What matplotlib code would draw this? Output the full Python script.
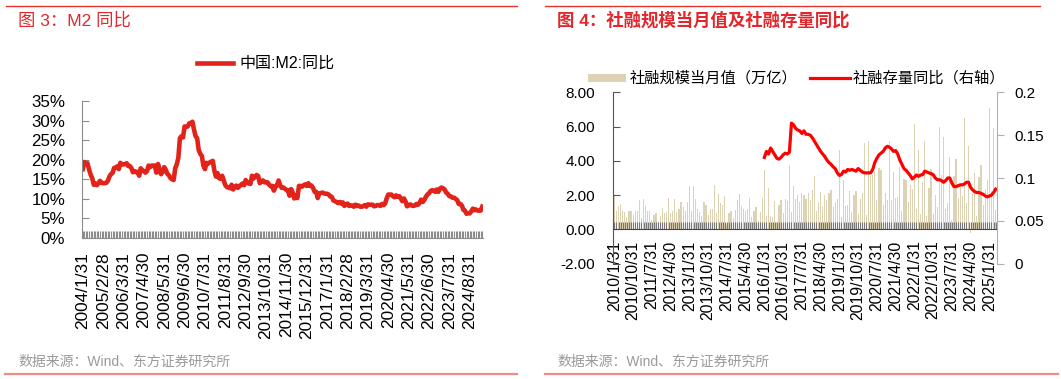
#!/usr/bin/env python3
# -*- coding: utf-8 -*-
"""
Dois paineis lado a lado: M2 同比 (esquerda) e 社融规模当月值 + 社融存量同比 (direita).
"""
import numpy as np
import pandas as pd
import matplotlib
matplotlib.use("Agg")
import matplotlib.pyplot as plt
from matplotlib.lines import Line2D
from matplotlib.patches import Rectangle

plt.rcParams['font.family'] = ['Liberation Sans', 'Noto Sans CJK SC', 'DejaVu Sans']

# ---------------------------------------------------------------------------
# dados
# ---------------------------------------------------------------------------
# M2 同比 (%), mensal 2004/1 .. 2025/4
m2_yoy = [
    17.6, 19.4, 19.1, 19.1, 17.5, 16.2, 15.3, 13.6, 13.9, 13.5, 14.0, 14.6,   # 2004
    14.1, 14.0, 14.0, 14.1, 14.6, 15.7, 16.3, 16.6, 17.9, 18.0, 18.3, 17.6,   # 2005
    19.2, 18.8, 18.8, 18.9, 19.1, 18.4, 18.4, 17.9, 16.8, 17.1, 16.8, 16.9,   # 2006
    15.9, 17.8, 17.3, 17.1, 16.7, 17.1, 18.5, 18.1, 18.5, 18.5, 18.5, 16.7,   # 2007
    18.9, 17.5, 16.3, 16.9, 18.1, 17.4, 16.4, 16.0, 15.3, 15.0, 14.8, 17.8,   # 2008
    18.8, 20.5, 25.5, 26.0, 25.7, 28.5, 28.4, 28.5, 29.3, 29.4, 29.7, 27.7,   # 2009
    26.0, 25.5, 22.5, 21.5, 21.0, 18.5, 17.6, 19.2, 19.0, 19.3, 19.5, 19.7,   # 2010
    17.2, 15.7, 16.6, 15.3, 15.1, 15.9, 14.7, 13.5, 13.0, 12.9, 12.7, 13.6,   # 2011
    12.4, 13.0, 13.4, 12.8, 13.2, 13.6, 13.9, 13.5, 14.8, 14.1, 13.9, 13.8,   # 2012
    15.9, 15.2, 15.7, 16.1, 15.8, 14.0, 14.5, 14.7, 14.2, 14.3, 14.2, 13.6,   # 2013
    13.2, 13.3, 12.1, 13.2, 13.4, 14.7, 13.5, 12.8, 12.9, 12.6, 12.3, 12.2,   # 2014
    10.8, 12.5, 11.6, 10.1, 10.8, 10.2, 13.3, 13.3, 13.1, 13.5, 13.7, 13.3,   # 2015
    14.0, 13.3, 13.4, 12.8, 11.8, 11.8, 10.2, 11.4, 11.5, 11.6, 11.4, 11.3,   # 2016
    11.3, 11.1, 10.6, 10.5, 9.6, 9.4, 9.2, 8.9, 9.2, 8.8, 9.1, 8.2,           # 2017
    8.6, 8.8, 8.2, 8.3, 8.3, 8.0, 8.5, 8.2, 8.3, 8.0, 8.0, 8.1,               # 2018
    8.4, 8.0, 8.6, 8.5, 8.5, 8.5, 8.1, 8.2, 8.4, 8.4, 8.2, 8.7,               # 2019
    8.4, 8.8, 10.1, 11.1, 11.1, 11.1, 10.7, 10.4, 10.9, 10.5, 10.7, 10.1,     # 2020
    9.4, 10.1, 9.4, 8.1, 8.3, 8.6, 8.3, 8.2, 8.3, 8.7, 8.5, 9.0,              # 2021
    9.8, 9.2, 9.7, 10.5, 11.1, 11.4, 12.0, 12.2, 12.1, 11.8, 12.4, 11.8,     # 2022
    12.6, 12.9, 12.7, 12.4, 11.6, 11.3, 10.7, 10.6, 10.3, 10.3, 10.0, 9.7,   # 2023
    8.7, 8.7, 8.3, 7.2, 7.0, 6.2, 6.3, 6.3, 6.8, 7.5, 7.1, 7.3,              # 2024
    7.0, 7.0, 7.0, 8.0,                                                      # 2025
]

# 社融规模当月值 (万亿), mensal 2010/1 .. 2025/4
tsf_flow = [
    2.00, 1.07, 1.38, 1.48, 1.07, 0.99, 0.70, 1.07, 1.10, 0.83, 1.05, 1.07,   # 2010
    1.73, 0.64, 1.80, 1.36, 1.07, 1.07, 0.54, 0.85, 0.95, 0.45, 0.80, 1.26,   # 2011
    0.95, 1.03, 1.84, 0.95, 1.10, 1.77, 1.03, 1.22, 1.61, 1.32, 1.10, 1.61,   # 2012
    2.52, 1.07, 2.52, 1.75, 1.19, 1.03, 0.80, 1.58, 1.42, 0.83, 1.22, 1.22,   # 2013
    2.58, 0.94, 2.07, 1.55, 1.40, 1.97, 0.27, 0.96, 1.05, 0.66, 1.15, 1.69,   # 2014
    2.05, 1.35, 1.18, 1.05, 1.22, 1.86, 0.72, 1.08, 1.30, 0.48, 1.02, 1.82,   # 2015
    3.46, 0.80, 2.40, 0.80, 0.75, 1.63, 0.45, 1.42, 1.72, 0.95, 1.80, 1.63,   # 2016
    3.75, 1.03, 2.53, 1.80, 2.00, 1.60, 2.10, 2.00, 1.80, 2.10, 1.70, 2.30,   # 2017
    3.13, 1.10, 1.60, 2.20, 1.30, 2.00, 1.70, 2.15, 2.30, 1.30, 1.60, 1.80,   # 2018
    4.64, 0.70, 2.86, 1.36, 1.40, 2.26, 1.01, 1.98, 2.27, 0.88, 1.75, 2.10,   # 2019
    5.07, 0.86, 5.16, 3.09, 3.19, 3.43, 1.69, 3.58, 3.48, 1.42, 2.13, 1.72,   # 2020
    5.17, 1.71, 3.34, 1.85, 1.92, 3.67, 1.06, 2.96, 2.90, 1.59, 2.61, 2.37,   # 2021
    6.17, 1.19, 4.65, 0.91, 2.79, 5.17, 0.76, 2.43, 3.53, 0.91, 1.99, 1.31,   # 2022
    5.98, 3.16, 5.38, 1.22, 1.56, 4.22, 0.53, 3.12, 4.12, 1.85, 2.45, 1.94,   # 2023
    6.50, 1.56, 4.87, -0.20, 2.07, 3.30, 0.77, 3.03, 3.76, 1.40, 2.34, 2.88,  # 2024
    7.06, 2.23, 5.89, 1.16,                                                   # 2025
]

# 社融存量同比, mensal 2016/1 .. 2025/4
tsf_stock_yoy = [
    0.124, 0.131, 0.128, 0.135, 0.131, 0.127, 0.123, 0.122, 0.124, 0.127, 0.129, 0.128,  # 2016
    0.130, 0.164, 0.162, 0.158, 0.156, 0.155, 0.152, 0.155, 0.151, 0.151, 0.150, 0.147,  # 2017
    0.143, 0.139, 0.135, 0.131, 0.128, 0.125, 0.121, 0.118, 0.116, 0.113, 0.111, 0.106,  # 2018
    0.103, 0.104, 0.108, 0.107, 0.110, 0.109, 0.110, 0.109, 0.108, 0.111, 0.109, 0.107,  # 2019
    0.106, 0.106, 0.106, 0.106, 0.110, 0.118, 0.123, 0.127, 0.129, 0.131, 0.135, 0.137,  # 2020
    0.136, 0.134, 0.131, 0.132, 0.128, 0.121, 0.116, 0.111, 0.109, 0.106, 0.103, 0.099,  # 2021
    0.101, 0.1035, 0.102, 0.1035, 0.104, 0.108, 0.107, 0.106, 0.105, 0.104, 0.100, 0.098,  # 2022
    0.098, 0.097, 0.095, 0.097, 0.100, 0.100, 0.094, 0.090, 0.090, 0.091, 0.092, 0.092,  # 2023
    0.093, 0.095, 0.095, 0.089, 0.086, 0.084, 0.083, 0.083, 0.082, 0.081, 0.079, 0.078,  # 2024
    0.079, 0.080, 0.083, 0.087,                                                          # 2025
]

m2_dates = pd.date_range("2004-01-31", periods=len(m2_yoy), freq="ME")
tsf_dates = pd.date_range("2010-01-31", periods=len(tsf_flow), freq="ME")
stock_start = 72          # 2016/1 na serie mensal do 社融

W, H = 1061, 379
RED_TITLE = "#e3262b"
GREY_TXT = "#9a9a9a"


def fx(px):
    return px / W


def fy(py):
    return 1 - py / H


def rot_labels(datas, passo):
    pos = list(range(0, len(datas), passo))
    lab = [f"{d.year}/{d.month}/{d.day}" for d in datas[pos]]
    return pos, lab


fig = plt.figure(figsize=(W / 100, H / 100), dpi=100)

# ---------------------------------------------------------------------------
# painel esquerdo: M2
# ---------------------------------------------------------------------------
ax1 = fig.add_axes([fx(82), fy(238), fx(483 - 82), (238 - 101) / H])
x1 = np.arange(len(m2_yoy))
ax1.plot(x1, np.array(m2_yoy) / 100, color="#e2231a", lw=3.3, solid_joinstyle="round")
ax1.set_xlim(-0.5, len(m2_yoy) - 0.5)
ax1.set_ylim(0, 0.35)
ax1.set_yticks(np.arange(0, 0.351, 0.05))
ax1.set_yticklabels([f"{int(round(v * 100))}%" for v in np.arange(0, 0.351, 0.05)])
pos, lab = rot_labels(m2_dates, 13)
ax1.set_xticks(pos)
ax1.set_xticklabels(lab, va="top", ha="center")
ax1.set_xticks(x1, minor=True)
for s in ["top", "right"]:
    ax1.spines[s].set_visible(False)
ax1.spines["left"].set_color("#8c8c8c")
ax1.spines["bottom"].set_color("#8c8c8c")
ax1.tick_params(axis="y", direction="in", length=5, color="#8c8c8c", labelsize=12.2, pad=12)
ax1.tick_params(axis="x", which="both", direction="in", length=5, width=0.8,
                color="#8c8c8c", labelsize=12.4, pad=10, labelrotation=90)

# legenda
fig.add_artist(Line2D([fx(197), fx(233)], [fy(63), fy(63)], color="#e2231a", lw=3.3))
fig.text(fx(239), fy(63), "中国:M2:同比", fontsize=11.5, va="center", ha="left")

# ---------------------------------------------------------------------------
# painel direito: 社融
# ---------------------------------------------------------------------------
ax2 = fig.add_axes([fx(613.3), fy(263.7), fx(996.7 - 613.3), (263.7 - 92.3) / H])
ax2.spines["bottom"].set_position(("data", 0))
x2 = np.arange(len(tsf_flow))
ax2.bar(x2, tsf_flow, width=0.55, color="#ddd2b4", linewidth=0, zorder=1)
ax2.set_xlim(-0.5, len(tsf_flow) - 0.5)
ax2.set_ylim(-2, 8)
ax2.set_yticks(np.arange(-2, 8.01, 2))
ax2.set_yticklabels([f"{v:.2f}" for v in np.arange(-2, 8.01, 2)])
pos, lab = rot_labels(tsf_dates, 9)
ax2.set_xticks(pos)
ax2.set_xticklabels(lab, va="top", ha="center")
ax2.set_xticks(x2, minor=True)
ax2.spines["top"].set_visible(False)
ax2.spines["right"].set_visible(False)
ax2.spines["left"].set_color("#555555")
ax2.spines["bottom"].set_color("#444444")
ax2.tick_params(axis="y", direction="in", length=5, color="#555555", labelsize=11, pad=13)
ax2.tick_params(axis="x", which="both", direction="in", length=5, width=0.8,
                color="#777777", labelsize=11.3, pad=8, labelrotation=90)

ax3 = ax2.twinx()
x3 = np.arange(stock_start, stock_start + len(tsf_stock_yoy))
ax3.plot(x3, tsf_stock_yoy, color="#ff0000", lw=2.3, solid_joinstyle="round", zorder=3)
ax3.set_ylim(0, 0.2)
ax3.set_yticks([0, 0.05, 0.1, 0.15, 0.2])
ax3.set_yticklabels(["0", "0.05", "0.1", "0.15", "0.2"])
for s in ["top", "left", "bottom"]:
    ax3.spines[s].set_visible(False)
ax3.spines["right"].set_color("#b0b0b0")
ax3.tick_params(axis="y", direction="out", length=5, color="#b0b0b0", labelsize=11, pad=8)

# legenda
fig.add_artist(Rectangle((fx(588), fy(82)), fx(38), 8 / H, color="#ddd2b4", lw=0))
fig.text(fx(630), fy(78), "社融规模当月值（万亿）", fontsize=11, va="center", ha="left")
fig.add_artist(Line2D([fx(810), fx(850)], [fy(78), fy(78)], color="#ff0000", lw=2.3))
fig.text(fx(853), fy(78), "社融存量同比（右轴）", fontsize=11, va="center", ha="left")

# ---------------------------------------------------------------------------
# titulos, fontes e linhas de moldura
# ---------------------------------------------------------------------------
fig.add_artist(Line2D([fx(6), fx(517)], [fy(6), fy(6)], color="#e8322c", lw=1.0))
fig.add_artist(Line2D([fx(545), fx(1040)], [fy(6), fy(6)], color="#e8322c", lw=1.0))
fig.text(fx(18), fy(20), "图 3：M2 同比", fontsize=12.5, color=RED_TITLE,
         va="center", ha="left")
fig.text(fx(557), fy(20), "图 4：社融规模当月值及社融存量同比", fontsize=12.5,
         color=RED_TITLE, va="center", ha="left", fontweight="bold")

fig.text(fx(18), fy(362), "数据来源：Wind、东方证券研究所", fontsize=10,
         color=GREY_TXT, va="center", ha="left")
fig.text(fx(557), fy(362), "数据来源：Wind、东方证券研究所", fontsize=10,
         color=GREY_TXT, va="center", ha="left")
fig.add_artist(Line2D([fx(5), fx(517)], [fy(373.5), fy(373.5)], color="#f08c86", lw=1.6))
fig.add_artist(Line2D([fx(545), fx(1058)], [fy(373.5), fy(373.5)], color="#f08c86", lw=1.6))

fig.savefig("out.png", dpi=100)
